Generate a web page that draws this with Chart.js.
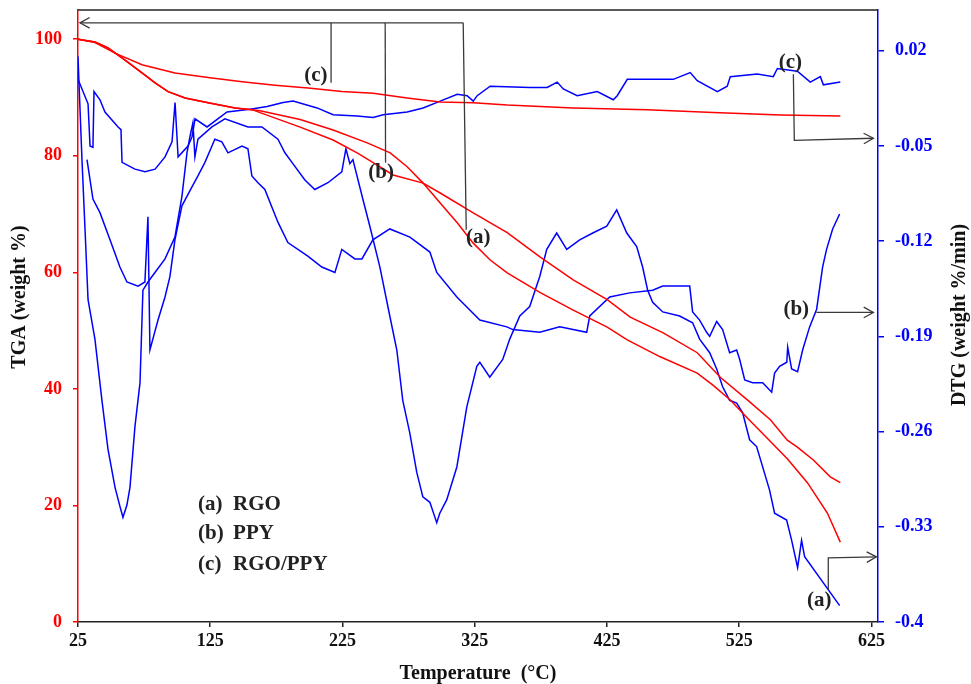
<!DOCTYPE html>
<html>
<head>
<meta charset="utf-8">
<title>TGA / DTG</title>
<script src="https://cdn.jsdelivr.net/npm/chart.js@4.4.1/dist/chart.umd.min.js"></script>
<style>
  html, body { margin: 0; padding: 0; background: #fff; }
  #tgaChart { display: block; }
</style>
</head>
<body>
<canvas id="tgaChart" width="971" height="684"></canvas>
<script>
const SERIF = '"Liberation Serif", "Times New Roman", serif';
const RED = "#ff0000";
const BLUE = "#0000ff";
const INK = "#222222";

// axis ticks
const TEMP_TICKS = [25, 125, 225, 325, 425, 525, 625];
const TGA_TICKS = [0, 20, 40, 60, 80, 100];
const DTG_TICKS = [-0.4, -0.33, -0.26, -0.19, -0.12, -0.05, 0.02];
const DTG_TICK_LABELS = ["-0.4", "-0.33", "-0.26", "-0.19", "-0.12", "-0.05", "0.02"];

// TGA curves (weight %)
const TGA_A_TEMP = [25, 37.9, 47.7, 60.6, 73.4, 83.3, 93.1, 106, 123.4, 143.8, 156.6, 162.7, 193, 217.9, 243.7, 261.1, 273.9, 286, 298.9, 311.8, 323.9, 336.7, 349.6, 374.6, 399.5, 425.2, 440.4, 465.3, 493.3, 505.4, 518.3, 531.2, 543.3, 561.4, 576.6, 591.7, 601.5];
const TGA_A = [100.0, 99.5, 98.5, 96.4, 94.2, 92.5, 91.0, 89.9, 89.1, 88.2, 87.9, 87.7, 86.2, 84.4, 82.2, 80.5, 78.1, 75.3, 71.9, 68.5, 65.0, 62.1, 59.9, 56.5, 53.5, 50.6, 48.4, 45.5, 42.7, 40.6, 38.1, 35.0, 32.2, 28.0, 23.9, 18.7, 13.7];

const TGA_B_TEMP = [25, 37.9, 47.7, 60.6, 73.4, 83.3, 93.1, 106, 123.4, 143.8, 156.6, 162.7, 193, 217.9, 236.1, 248.2, 263.3, 286, 298.9, 323.9, 349.6, 374.6, 399.5, 425.2, 442.6, 467.6, 493.3, 510.7, 531.2, 548.6, 561.4, 569.0, 581.1, 593.9, 601.5];
const TGA_B = [100.0, 99.5, 98.5, 96.4, 94.2, 92.5, 91.0, 89.9, 89.1, 88.2, 87.9, 87.4, 84.9, 82.7, 80.5, 78.8, 76.7, 75.3, 73.6, 70.2, 66.8, 62.6, 58.7, 55.3, 52.3, 49.6, 46.2, 42.0, 38.1, 34.7, 31.2, 30.0, 27.8, 24.9, 23.9];

const TGA_C_TEMP = [25, 37.9, 53, 73.4, 98.4, 123.4, 149.1, 174, 199, 224.7, 248.2, 273.9, 298.9, 323.9, 349.6, 399.5, 455.5, 505.4, 556.1, 601.5];
const TGA_C = [100.0, 99.4, 97.6, 95.6, 94.2, 93.4, 92.7, 92.1, 91.6, 91.0, 90.7, 89.9, 89.2, 89.1, 88.7, 88.2, 87.9, 87.4, 87.0, 86.8];

// DTG curves (weight %/min)
const DTG_A_TEMP = [25, 25.8, 28, 30.3, 32.6, 37.8, 43.1, 47.7, 53, 56.7, 59, 62, 64.3, 68.1, 71.9, 74.1, 77.9, 83.2, 90.8, 98.3, 103.6, 107.4, 109.7, 111.9, 113.4, 115.7, 126.3, 136.1, 153.5, 164.1, 176.2, 181.5, 186.8, 196.6, 204.1, 214, 224.5, 227.6, 230.6, 232.9, 240.4, 245.7, 253.3, 260.8, 266.1, 270.6, 275.9, 281.2, 285.8, 291.1, 296.3, 298.6, 303.9, 311.5, 319, 326.6, 328.9, 336.4, 346.2, 351.5, 359.1, 366.6, 374.2, 379.5, 387, 394.6, 404.4, 414.3, 424.9, 432.4, 440, 447.5, 452, 455.8, 459.6, 467.2, 480, 489.8, 495.1, 502.7, 508, 512.5, 517.8, 523.1, 527.6, 532.9, 538.2, 548, 551.8, 560.9, 564.7, 569.2, 572.2, 574.5, 601];
const DTG_A = [0.016, -0.005, -0.060, -0.111, -0.163, -0.192, -0.237, -0.273, -0.301, -0.315, -0.323, -0.314, -0.301, -0.256, -0.224, -0.156, -0.150, -0.143, -0.133, -0.117, -0.087, -0.055, -0.043, -0.033, -0.058, -0.045, -0.036, -0.030, -0.036, -0.036, -0.045, -0.055, -0.062, -0.075, -0.082, -0.077, -0.069, -0.052, -0.063, -0.060, -0.089, -0.109, -0.139, -0.175, -0.200, -0.237, -0.261, -0.290, -0.308, -0.312, -0.327, -0.320, -0.310, -0.286, -0.242, -0.212, -0.209, -0.220, -0.207, -0.192, -0.175, -0.168, -0.146, -0.126, -0.114, -0.126, -0.119, -0.114, -0.109, -0.097, -0.114, -0.124, -0.139, -0.156, -0.165, -0.172, -0.175, -0.180, -0.192, -0.202, -0.214, -0.227, -0.237, -0.239, -0.246, -0.266, -0.271, -0.303, -0.320, -0.325, -0.340, -0.360, -0.340, -0.352, -0.388];

const DTG_B_TEMP = [31.8, 36.3, 41.6, 49.2, 56.7, 62, 70.4, 75.6, 77.9, 79.4, 85.5, 90.8, 94.5, 98.3, 103.6, 111.2, 115.7, 121, 126.3, 128.5, 133.8, 138.4, 149, 153.5, 156.5, 161.1, 166.3, 176.2, 183.7, 198.8, 209.4, 219.3, 224.5, 234.4, 239.7, 248, 260.8, 276, 291.1, 296.3, 311.5, 328.9, 349.3, 353.8, 374.2, 389.3, 409.7, 412, 427.1, 442.2, 459.6, 467.2, 487.6, 489.8, 495.1, 500.4, 502.7, 508, 512.5, 517.8, 523.1, 525.4, 529.2, 535.2, 542.8, 549.6, 551.8, 555.6, 561, 561.7, 564.7, 569.2, 573, 578.3, 583.6, 588.1, 591.1, 595.7, 601];
const DTG_B = [-0.060, -0.089, -0.099, -0.119, -0.139, -0.150, -0.153, -0.150, -0.102, -0.200, -0.178, -0.161, -0.146, -0.119, -0.094, -0.080, -0.072, -0.062, -0.050, -0.045, -0.047, -0.055, -0.050, -0.052, -0.072, -0.077, -0.082, -0.106, -0.121, -0.131, -0.139, -0.143, -0.126, -0.133, -0.133, -0.119, -0.111, -0.117, -0.128, -0.143, -0.161, -0.178, -0.183, -0.185, -0.187, -0.183, -0.187, -0.175, -0.161, -0.158, -0.156, -0.153, -0.153, -0.172, -0.178, -0.187, -0.190, -0.179, -0.185, -0.202, -0.200, -0.207, -0.222, -0.224, -0.224, -0.231, -0.217, -0.212, -0.209, -0.198, -0.214, -0.216, -0.200, -0.183, -0.170, -0.139, -0.126, -0.111, -0.100];

const DTG_C_TEMP = [25, 32.6, 34.1, 36.3, 37.1, 41.6, 45.4, 55.3, 57.5, 58.3, 68.1, 75.7, 83.3, 90.8, 96.1, 98.4, 100.7, 108.2, 111.3, 113.5, 122.6, 137.7, 155.1, 168, 180.1, 187.7, 205.8, 217.9, 236.1, 248.2, 255.8, 273.9, 286, 298.9, 311.8, 319.3, 323.9, 326.9, 336.7, 367, 379.8, 387.4, 392, 402.5, 417.7, 429.8, 432.8, 440.4, 457.8, 475.2, 488, 493.3, 508.5, 516, 518.3, 538.7, 550.8, 553.9, 569, 578.8, 586.4, 588.7, 601.5];
const DTG_C = [-0.001, -0.019, -0.050, -0.051, -0.010, -0.016, -0.025, -0.036, -0.038, -0.062, -0.067, -0.069, -0.067, -0.058, -0.047, -0.018, -0.058, -0.050, -0.043, -0.030, -0.036, -0.025, -0.023, -0.021, -0.018, -0.017, -0.022, -0.027, -0.028, -0.029, -0.027, -0.025, -0.022, -0.017, -0.012, -0.013, -0.017, -0.013, -0.006, -0.007, -0.007, -0.003, -0.008, -0.013, -0.010, -0.016, -0.013, -0.001, -0.001, -0.001, 0.004, -0.002, -0.010, -0.006, 0.001, 0.003, 0.001, 0.007, 0.005, -0.003, 0.001, -0.005, -0.003];

// callouts and pointer lines (temperature, axis value)
const TGA_POINTERS = [
  [[316.3, 102.8], [26.5, 102.8]],
  [[216.4, 102.8], [216.4, 92.5]],
  [[257.3, 102.8], [257.6, 78.8]],
  [[316.3, 102.8], [318.6, 67.3]],
];
const TGA_POINTER_ARROW = [true, false, false, false];
const TGA_CALLOUTS = ["(c)", "(b)", "(a)"];
const TGA_CALLOUT_TEMP = [204.9, 254.2, 327.6];
const TGA_CALLOUT_VAL = [93.7, 77.1, 65.9];

const DTG_POINTERS = [
  [[566.0, 0.0028], [566.7, -0.0458], [626.5, -0.0443]],
  [[583.4, -0.1724], [626.5, -0.1724]],
  [[592.4, -0.3764], [592.4, -0.3529], [628.8, -0.3521]],
];
const DTG_CALLOUTS = ["(c)", "(b)", "(a)"];
const DTG_CALLOUT_TEMP = [563.7, 568.2, 585.6];
const DTG_CALLOUT_VAL = [0.0117, -0.1702, -0.3845];

const LEGEND_KEYS = ["(a)", "(b)", "(c)"];
const LEGEND_NAMES = ["RGO", "PPY", "RGO/PPY"];
const LEGEND_KEY_TEMP = 115.8;
const LEGEND_NAME_TEMP = 142.3;
const LEGEND_ROWS = [20.1, 15.1, 9.8];

function toPoints(xs, ys) {
  return xs.map((x, i) => ({ x: x, y: ys[i] }));
}

function fixedTicks(values) {
  return (scale) => {
    scale.ticks = values.map((v) => ({ value: v }));
  };
}

// fixed axis thickness, and no extra room for edge labels
function fixedSize(prop, size) {
  return (scale) => {
    scale[prop] = size;
    scale.paddingTop = 0;
    scale.paddingBottom = 0;
    scale.paddingLeft = 0;
    scale.paddingRight = 0;
  };
}

function lineSet(label, xs, ys, color, axis) {
  return {
    label: label,
    data: toPoints(xs, ys),
    borderColor: color,
    borderWidth: 1.5,
    pointRadius: 0,
    tension: 0,
    fill: false,
    yAxisID: axis,
  };
}

function arrowHead(ctx, x0, y0, x1, y1) {
  const ang = Math.atan2(y1 - y0, x1 - x0);
  const len = 11;
  const spread = 0.5;
  ctx.beginPath();
  ctx.moveTo(x1 - len * Math.cos(ang - spread), y1 - len * Math.sin(ang - spread));
  ctx.lineTo(x1, y1);
  ctx.lineTo(x1 - len * Math.cos(ang + spread), y1 - len * Math.sin(ang + spread));
  ctx.stroke();
}

function drawPath(ctx, xScale, yScale, path, withArrow) {
  const pts = path.map((p) => [xScale.getPixelForValue(p[0]), yScale.getPixelForValue(p[1])]);
  ctx.beginPath();
  pts.forEach((p, i) => (i === 0 ? ctx.moveTo(p[0], p[1]) : ctx.lineTo(p[0], p[1])));
  ctx.stroke();
  if (withArrow) {
    const a = pts[pts.length - 2];
    const b = pts[pts.length - 1];
    arrowHead(ctx, a[0], a[1], b[0], b[1]);
  }
}

const decorations = {
  id: "decorations",
  afterDatasetsDraw(chart) {
    const { ctx, chartArea, scales } = chart;
    const xs = scales.x;
    const yl = scales.y;
    const yr = scales.y1;
    ctx.save();

    // frame top
    ctx.strokeStyle = INK;
    ctx.lineWidth = 1.5;
    ctx.beginPath();
    ctx.moveTo(chartArea.left, chartArea.top);
    ctx.lineTo(chartArea.right, chartArea.top);
    ctx.stroke();

    // pointers
    ctx.strokeStyle = "#3a3a3a";
    ctx.lineWidth = 1.3;
    TGA_POINTERS.forEach((p, i) => drawPath(ctx, xs, yl, p, TGA_POINTER_ARROW[i]));
    DTG_POINTERS.forEach((p) => drawPath(ctx, xs, yr, p, true));

    ctx.fillStyle = INK;
    ctx.font = "bold 21px " + SERIF;
    ctx.textAlign = "center";
    ctx.textBaseline = "middle";
    TGA_CALLOUTS.forEach((t, i) => {
      ctx.fillText(t, xs.getPixelForValue(TGA_CALLOUT_TEMP[i]), yl.getPixelForValue(TGA_CALLOUT_VAL[i]));
    });
    DTG_CALLOUTS.forEach((t, i) => {
      ctx.fillText(t, xs.getPixelForValue(DTG_CALLOUT_TEMP[i]), yr.getPixelForValue(DTG_CALLOUT_VAL[i]));
    });

    // legend text
    ctx.textAlign = "left";
    LEGEND_KEYS.forEach((k, i) => {
      const y = yl.getPixelForValue(LEGEND_ROWS[i]);
      ctx.fillText(k, xs.getPixelForValue(LEGEND_KEY_TEMP), y);
      ctx.fillText(LEGEND_NAMES[i], xs.getPixelForValue(LEGEND_NAME_TEMP), y);
    });

    // axis titles
    ctx.fillStyle = "#111";
    ctx.font = "bold 20px " + SERIF;
    ctx.textAlign = "center";
    ctx.textBaseline = "alphabetic";
    ctx.fillText("Temperature  (°C)", (chartArea.left + chartArea.right) / 2, 679);

    ctx.textBaseline = "middle";
    ctx.save();
    ctx.translate(20, 297);
    ctx.rotate(-Math.PI / 2);
    ctx.fillText("TGA (weight %)", 0, 0);
    ctx.restore();

    ctx.save();
    ctx.translate(960, 315);
    ctx.rotate(-Math.PI / 2);
    ctx.fillText("DTG (weight %/min)", 0, 0);
    ctx.restore();

    ctx.restore();
  },
};

const tickFont = { family: SERIF, size: 18, weight: "bold" };

new Chart(document.getElementById("tgaChart").getContext("2d"), {
  type: "line",
  data: {
    datasets: [
      lineSet("TGA (a)", TGA_A_TEMP, TGA_A, RED, "y"),
      lineSet("TGA (b)", TGA_B_TEMP, TGA_B, RED, "y"),
      lineSet("TGA (c)", TGA_C_TEMP, TGA_C, RED, "y"),
      lineSet("DTG (a)", DTG_A_TEMP, DTG_A, BLUE, "y1"),
      lineSet("DTG (b)", DTG_B_TEMP, DTG_B, BLUE, "y1"),
      lineSet("DTG (c)", DTG_C_TEMP, DTG_C, BLUE, "y1"),
    ],
  },
  options: {
    responsive: false,
    devicePixelRatio: 1,
    animation: false,
    layout: { padding: { top: 10, left: 0, right: 0, bottom: 0 } },
    plugins: {
      legend: { display: false },
      tooltip: { enabled: false },
      title: { display: false },
    },
    scales: {
      x: {
        type: "linear",
        position: "bottom",
        min: 25,
        max: 630,
        afterBuildTicks: fixedTicks(TEMP_TICKS),
        afterFit: fixedSize("height", 62),
        border: { color: INK, width: 1.5 },
        grid: { drawOnChartArea: false, drawTicks: true, tickLength: 5, color: INK, lineWidth: 1.5 },
        ticks: { font: tickFont, color: "#111", padding: 4, maxRotation: 0, autoSkip: false, callback: (v) => String(v) },
      },
      y: {
        type: "linear",
        position: "left",
        min: 0,
        max: 105,
        afterBuildTicks: fixedTicks(TGA_TICKS),
        afterFit: fixedSize("width", 78),
        border: { color: RED, width: 1.5 },
        grid: { drawOnChartArea: false, drawTicks: true, tickLength: 5, color: RED, lineWidth: 1.5 },
        ticks: { font: tickFont, color: RED, padding: 11, callback: (v) => String(v) },
      },
      y1: {
        type: "linear",
        position: "right",
        min: -0.4,
        max: 0.05,
        afterBuildTicks: fixedTicks(DTG_TICKS),
        afterFit: fixedSize("width", 93),
        border: { color: BLUE, width: 1.5 },
        grid: { drawOnChartArea: false, drawTicks: true, tickLength: 6, color: BLUE, lineWidth: 1.5 },
        ticks: { font: tickFont, color: BLUE, padding: 11, callback: (v) => DTG_TICK_LABELS[DTG_TICKS.indexOf(v)] },
      },
    },
  },
  plugins: [decorations],
});
</script>
</body>
</html>
